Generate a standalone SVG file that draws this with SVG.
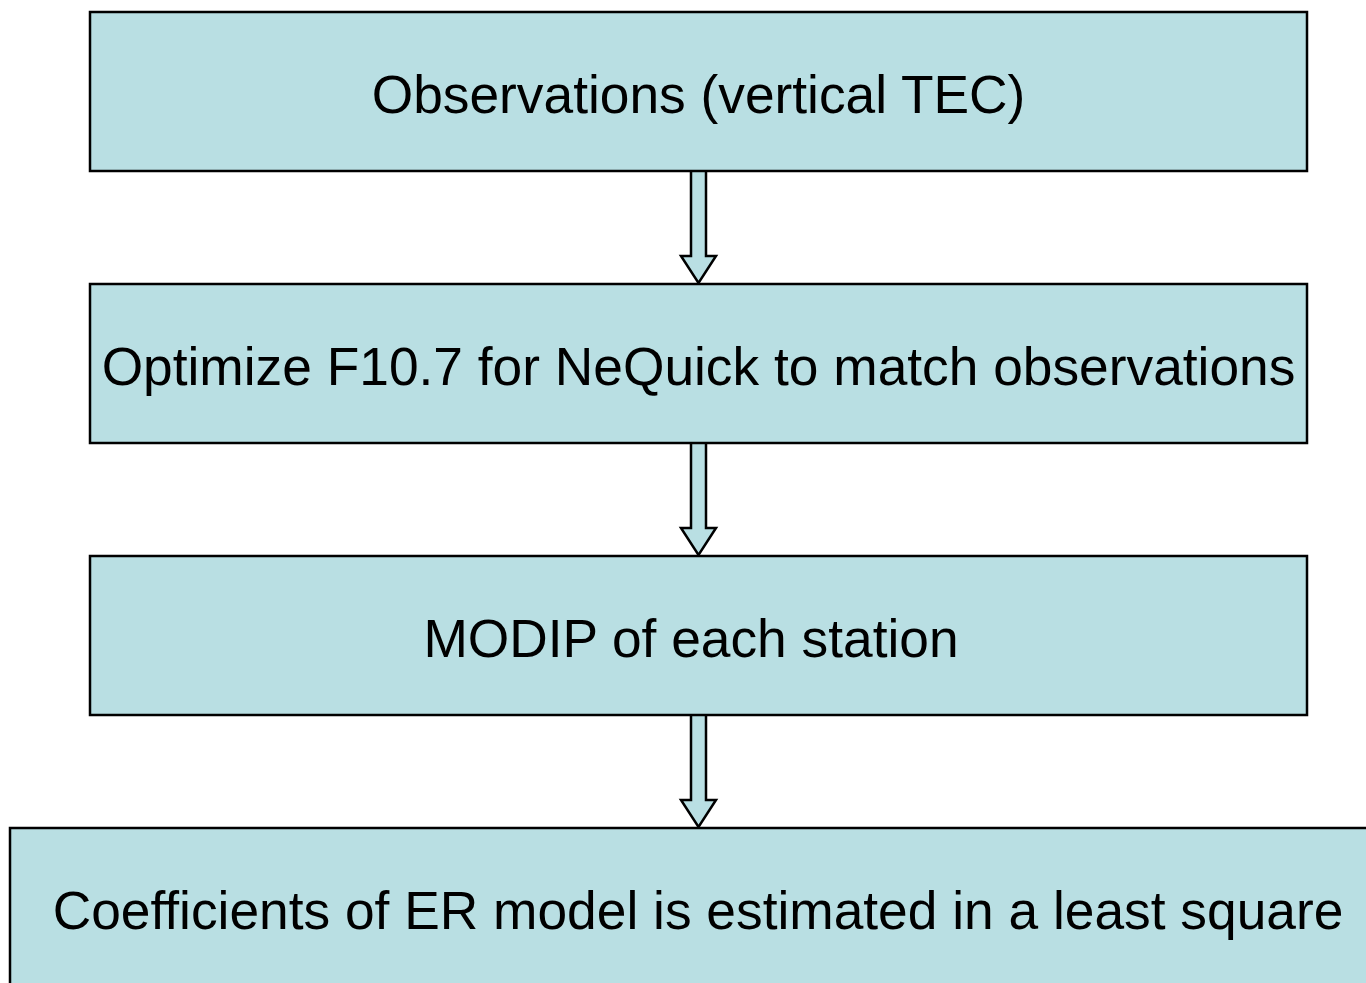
<svg xmlns="http://www.w3.org/2000/svg" width="1366" height="983" viewBox="0 0 1366 983">
<style>
.box{fill:#B9DFE3;stroke:#000;stroke-width:2.5}
.lbl{font-family:"Liberation Sans",Arial,sans-serif;font-size:53.3px;fill:#000;text-anchor:middle}
.arr{fill:#B9DFE3;stroke:#000;stroke-width:2.5;stroke-linejoin:miter}
</style>
<rect width="1366" height="983" fill="#fff"/>
<g id="connectors">
<path class="arr" d="M691,171 L691,256 L681,256 L698.5,283 L716,256 L706,256 L706,171"/>
<path class="arr" d="M691,443 L691,528 L681,528 L698.5,555 L716,528 L706,528 L706,443"/>
<path class="arr" d="M691,715 L691,800 L681,800 L698.5,827 L716,800 L706,800 L706,715"/>
</g>
<g id="n1"><rect class="box" x="90" y="12" width="1217" height="159"/><text class="lbl" x="698.5" y="113">Observations (vertical TEC)</text></g>
<g id="n2"><rect class="box" x="90" y="284" width="1217" height="159"/><text class="lbl" x="698.5" y="385">Optimize F10.7 for NeQuick to match observations</text></g>
<g id="n3"><rect class="box" x="90" y="556" width="1217" height="159"/><text class="lbl" x="691" y="657">MODIP of each station</text></g>
<g id="n4"><rect class="box" x="10" y="828" width="1380" height="180"/><text class="lbl" x="698" y="929">Coefficients of ER model is estimated in a least square</text></g>
</svg>
